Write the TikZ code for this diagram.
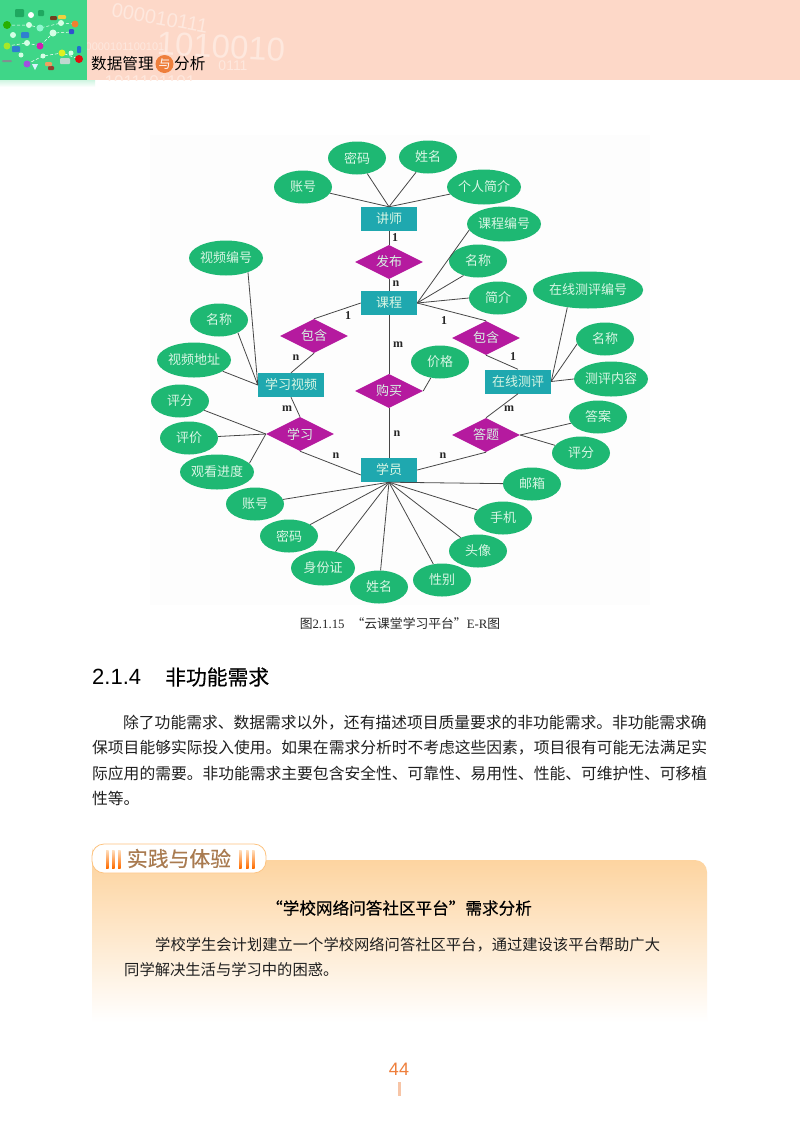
\documentclass[tikz,border=0pt]{standalone}
\usepackage{fontspec}
\setmainfont{Liberation Serif}
\newfontfamily\cjk{Noto Sans CJK SC}
\newfontfamily\cjkheavy[FakeBold=0.35]{Noto Sans CJK SC}
\newfontfamily\latinsans{Liberation Sans}
\usetikzlibrary{shapes.geometric}
\definecolor{attrgreen}{HTML}{1EB873}
\definecolor{entityteal}{HTML}{1FA8AF}
\definecolor{relpurple}{HTML}{B51A9F}
\definecolor{attrtext}{HTML}{D8F6E4}
\definecolor{headsalmon}{HTML}{FDD8C8}
\definecolor{headgreen}{HTML}{3FD688}
\definecolor{digitpale}{HTML}{FEE8DE}
\definecolor{panelorange}{HTML}{FDD4A0}
\definecolor{tagbrown}{HTML}{A97B50}
\definecolor{pageorange}{HTML}{EE7F3C}
\tikzset{
	attr/.style = {ellipse, fill = attrgreen, text = attrtext, inner sep = 0pt,
		minimum width = 58pt, minimum height = 33pt, font = \cjk\fontsize{13}{13}\selectfont},
	attrlong/.style = {attr, minimum width = 74pt, minimum height = 35pt},
	entity/.style = {rectangle, fill = entityteal, text = attrtext, inner sep = 0pt,
		minimum width = 56pt, minimum height = 24pt, font = \cjk\fontsize{13}{13}\selectfont},
	relation/.style = {diamond, fill = relpurple, text = attrtext, inner sep = 0pt, aspect = 2,
		minimum width = 68pt, minimum height = 34pt, font = \cjk\fontsize{13}{13}\selectfont},
	link/.style = {draw = black!72, line width = .8pt},
	card/.style = {inner sep = 0pt, text = black!85, font = \bfseries\fontsize{12}{12}\selectfont},
	bodyline/.style = {anchor = west, inner sep = 0pt, text = black!88, font = \cjk\fontsize{15.77}{16}\selectfont},
	panelline/.style = {bodyline, font = \cjk\fontsize{15.3}{16}\selectfont},
	digit/.style = {inner sep = 0pt, text = digitpale, font = \latinsans}
}
\begin{document}
\begin{tikzpicture}[x = 1pt, y = -1pt]
	\useasboundingbox (0, 0) rectangle (800, 1122) ;
	\fill [white] (0, 0) rectangle (800, 1122) ;

	\fill [headsalmon] (87, 0) rectangle (800, 80) ;
	\begin{scope}
		\clip (87, 0) rectangle (800, 80) ;
		\node [digit, rotate = -10, font = \latinsans\fontsize{20}{20}\selectfont] (bitsa) at (160, 18) {000010111} ;
		\node [digit, rotate = -3, font = \latinsans\fontsize{33}{33}\selectfont] (bitsb) at (221, 47) {1010010} ;
		\node [digit, font = \latinsans\fontsize{11}{11}\selectfont] (bitsc) at (125, 47) {0000101100101} ;
		\node [digit, font = \latinsans\fontsize{14}{14}\selectfont] (bitsd) at (233, 66) {0111} ;
		\node [digit, font = \latinsans\fontsize{17}{17}\selectfont] (bitse) at (150, 82) {1011101101} ;
	\end{scope}
	\fill [headgreen] (0, 0) rectangle (87, 80) ;
	\shade [top color = headgreen!25, bottom color = white] (0, 80) rectangle (95, 87) ;

	\draw [white, densely dashed, line width = .5pt] (7, 25) -- (29, 25) -- (40, 28) -- (61, 23) -- (75, 24) ;
	\draw [white, densely dashed, line width = .5pt] (7, 46) -- (27, 43) -- (40, 46) -- (53, 33) -- (72, 32) ;
	\draw [white, densely dashed, line width = .5pt] (27, 64) -- (43, 56) -- (62, 53) -- (79, 59) ;
	\foreach \px/\py/\rad/\dotcol in {29/25/3/D5FFE5, 40/28/3.5/90F8D0, 61/23/3/D5FFE5, 75/24/3.5/F08030,
		13/35/3/D5FFE5, 53/33/3.5/D5FFE5, 27/43/3/D5FFE5, 21/55/2.5/D5FFE5, 43/56/2.5/D5FFE5,
		71/53/2.5/D5FFE5, 7/46/3.5/A8E828, 40/46/3.5/D020B0, 62/53/3.5/E0F020, 27/64/3.5/A050E0,
		7/25/4/28B000, 79/59/4/E01010, 31/15/3/FFFFFF}
	{
		\definecolor{dotcolor}{HTML}{\dotcol}
		\fill [dotcolor] (\px, \py) circle (\rad) ;
	}
	\foreach \pa/\pb/\pc/\pd/\dotcol in {21/32/29/38/2F80D0, 12/46/20/52/2F80D0, 58/15/66/19/F0D040,
		50/16/57/20/704020, 69/29/74/34/3050D0, 77/46/81/53/2070D0, 48/66/54/70/904030,
		45/62/52/66/F0A060, 60/58/70/64/C0D8D0, 2/60/12/62/809090, 15/9/24/17/1FA860, 38/10/44/16/1FA860}
	{
		\definecolor{dotcolor}{HTML}{\dotcol}
		\fill [dotcolor, rounded corners = 1pt] (\pa, \pb) rectangle (\pc, \pd) ;
	}
	\fill [white!85!cyan] (32, 64) -- (38, 64) -- (35, 70) -- cycle ;

	\node [inner sep = 0pt, text = black, anchor = west, font = \cjk\fontsize{15.6}{16}\selectfont] (headleft) at (91, 64) {数据管理} ;
	\node [circle, fill = pageorange, minimum size = 18pt, inner sep = 0pt, text = white, font = \cjk\fontsize{12}{12}\selectfont] (headand) at (164.5, 64) {与} ;
	\node [inner sep = 0pt, text = black, anchor = west, font = \cjk\fontsize{15.6}{16}\selectfont] (headright) at (174, 64) {分析} ;

	\fill [black!.6] (150, 135) rectangle (650, 605) ;

	\node [attr] (tmima) at (357, 158) {密码} ;
	\node [attr] (tname) at (428, 157) {姓名} ;
	\node [attr] (tacct) at (303, 187) {账号} ;
	\node [attrlong] (tbio) at (484, 187) {个人简介} ;
	\node [entity] (teacher) at (389, 219) {讲师} ;
	\node [relation] (publish) at (389, 262) {发布} ;
	\node [entity] (course) at (389, 303) {课程} ;
	\node [attrlong] (cid) at (504, 224) {课程编号} ;
	\node [attr] (cname) at (478, 261) {名称} ;
	\node [attr] (cbrief) at (498, 298) {简介} ;
	\node [relation] (holdv) at (314, 336) {包含} ;
	\node [relation] (holdq) at (486, 338) {包含} ;
	\node [entity, minimum width = 66pt] (video) at (291, 385) {学习视频} ;
	\node [attrlong] (vid) at (226, 258) {视频编号} ;
	\node [attr] (vname) at (219, 320) {名称} ;
	\node [attrlong] (vurl) at (194, 360) {视频地址} ;
	\node [entity, minimum width = 66pt] (quiz) at (518, 381.5) {在线测评} ;
	\node [attr, minimum width = 100pt, minimum height = 37pt] (qid) at (588, 290) {在线测评编号} ;
	\node [attr] (qname) at (605, 339) {名称} ;
	\node [attrlong] (qtext) at (611, 379) {测评内容} ;
	\node [relation] (buy) at (389, 391) {购买} ;
	\node [attr] (price) at (440, 362) {价格} ;
	\node [relation] (study) at (300, 434) {学习} ;
	\node [relation] (answer) at (486, 435) {答题} ;
	\node [attr] (sscore) at (180, 401) {评分} ;
	\node [attr] (sremark) at (189, 438) {评价} ;
	\node [attrlong] (sprog) at (217, 472) {观看进度} ;
	\node [attr] (akey) at (598, 417) {答案} ;
	\node [attr] (ascore) at (581, 453) {评分} ;
	\node [entity] (student) at (389, 470) {学员} ;
	\node [attr] (smail) at (532, 484) {邮箱} ;
	\node [attr] (sphone) at (503, 518) {手机} ;
	\node [attr] (sface) at (478, 551) {头像} ;
	\node [attr] (ssex) at (442, 580) {性别} ;
	\node [attr] (sname) at (379, 587) {姓名} ;
	\node [attr, minimum width = 64pt, minimum height = 35pt] (scard) at (323, 568) {身份证} ;
	\node [attr] (smima) at (289, 536) {密码} ;
	\node [attr] (sacct) at (255, 504) {账号} ;

	\draw [link] (tmima) -- (teacher.north) ;
	\draw [link] (tname) -- (teacher.north) ;
	\draw [link] (tacct) -- (teacher.north) ;
	\draw [link] (tbio) -- (teacher.north) ;
	\draw [link] (teacher) -- (publish) ;
	\draw [link] (publish) -- (course) ;
	\draw [link] (cid.190) -- (course.east) ;
	\draw [link] (cname.225) -- (course.east) ;
	\draw [link] (cbrief.west) -- (course.east) ;
	\draw [link] (course.west) -- (holdv.north) ;
	\draw [link] (course.east) -- (holdq.north) ;
	\draw [link] (holdv.south) -- (video.north) ;
	\draw [link] (holdq.south) -- (quiz.north) ;
	\draw [link] (vid.327) -- (video.west) ;
	\draw [link] (vname.326) -- (video.west) ;
	\draw [link] (vurl) -- (video.west) ;
	\draw [link] (qid.220) -- (quiz.east) ;
	\draw [link] (qname.190) -- (quiz.east) ;
	\draw [link] (qtext.west) -- (quiz.east) ;
	\draw [link] (course) -- (buy) ;
	\draw [link] (buy) -- (student) ;
	\draw [link] (price) -- (buy.east) ;
	\draw [link] (video.south) -- (study.north) ;
	\draw [link] (quiz.south) -- (answer.north) ;
	\draw [link] (sscore) -- (study.west) ;
	\draw [link] (sremark) -- (study.west) ;
	\draw [link] (sprog.15) -- (study.west) ;
	\draw [link] (akey) -- (answer.east) ;
	\draw [link] (ascore) -- (answer.east) ;
	\draw [link] (study.south) -- (student.190) ;
	\draw [link] (answer.south) -- (student.east) ;
	\draw [link] (smail) -- (student.south) ;
	\draw [link] (sphone) -- (student.south) ;
	\draw [link] (sface) -- (student.south) ;
	\draw [link] (ssex) -- (student.south) ;
	\draw [link] (sname) -- (student.south) ;
	\draw [link] (scard) -- (student.south) ;
	\draw [link] (smima) -- (student.south) ;
	\draw [link] (sacct) -- (student.south) ;

	\node [card] (cardtp) at (395, 238) {1} ;
	\node [card] (cardpc) at (396, 284) {n} ;
	\node [card] (cardcv) at (348, 316) {1} ;
	\node [card] (cardhv) at (296, 358) {n} ;
	\node [card] (cardcq) at (444, 321) {1} ;
	\node [card] (cardhq) at (513, 357) {1} ;
	\node [card] (cardcb) at (398, 345) {m} ;
	\node [card] (cardbs) at (397, 434) {n} ;
	\node [card] (cardvs) at (287, 409) {m} ;
	\node [card] (cardss) at (336, 456) {n} ;
	\node [card] (cardqa) at (509, 409) {m} ;
	\node [card] (cardas) at (443, 456) {n} ;

	\node [inner sep = 0pt, text = black!85, font = \fontsize{12.8}{13}\selectfont] (figcap) at (400, 624)
		{{\cjk 图}2.1.15\hspace{7pt}{\cjk “云课堂学习平台”}E-R{\cjk 图}} ;

	\node [inner sep = 0pt, anchor = west, text = black, font = \latinsans\fontsize{22}{22}\selectfont] (secnum) at (92, 677) {2.1.4} ;
	\node [inner sep = 0pt, anchor = west, text = black, font = \cjkheavy\fontsize{20.8}{21}\selectfont] (sectitle) at (165, 677) {非功能需求} ;

	\node [bodyline] (linea) at (123, 723) {除了功能需求、数据需求以外，还有描述项目质量要求的非功能需求。非功能需求确} ;
	\node [bodyline] (lineb) at (92, 748) {保项目能够实际投入使用。如果在需求分析时不考虑这些因素，项目很有可能无法满足实} ;
	\node [bodyline] (linec) at (92, 773) {际应用的需要。非功能需求主要包含安全性、可靠性、易用性、性能、可维护性、可移植} ;
	\node [bodyline] (lined) at (92, 798) {性等。} ;

	\shade [top color = panelorange, bottom color = white]
		(92, 1022) [sharp corners] -- (92, 860) [rounded corners = 12pt] -- (92, 860) -- (707, 860) [sharp corners] -- (707, 1022) -- cycle ;
	\node [draw = panelorange!80!orange, fill = white, rounded corners = 12pt, line width = .8pt, minimum width = 174pt, minimum height = 29pt, inner sep = 0pt,
		text = tagbrown, font = \cjkheavy\fontsize{20.8}{21}\selectfont] (practag) at (179, 858.5) {实践与体验} ;
	\foreach \barx in {106, 112, 118, 239, 246, 252}
		\shade [top color = orange!25, bottom color = orange!85!red] (\barx, 850) rectangle ++(2.6, 18) ;

	\node [inner sep = 0pt, text = black, font = \cjkheavy\fontsize{16.6}{17}\selectfont] (practitle) at (399, 908) {“学校网络问答社区平台”需求分析} ;
	\node [panelline] (pracline) at (155, 945) {学校学生会计划建立一个学校网络问答社区平台，通过建设该平台帮助广大} ;
	\node [panelline] (pracnext) at (124, 970) {同学解决生活与学习中的困惑。} ;

	\node [inner sep = 0pt, text = pageorange, font = \latinsans\fontsize{18}{18}\selectfont] (pagenum) at (399, 1069) {44} ;
	\fill [pageorange!45] (397.5, 1082) rectangle (401, 1096) ;
\end{tikzpicture}
\end{document}
